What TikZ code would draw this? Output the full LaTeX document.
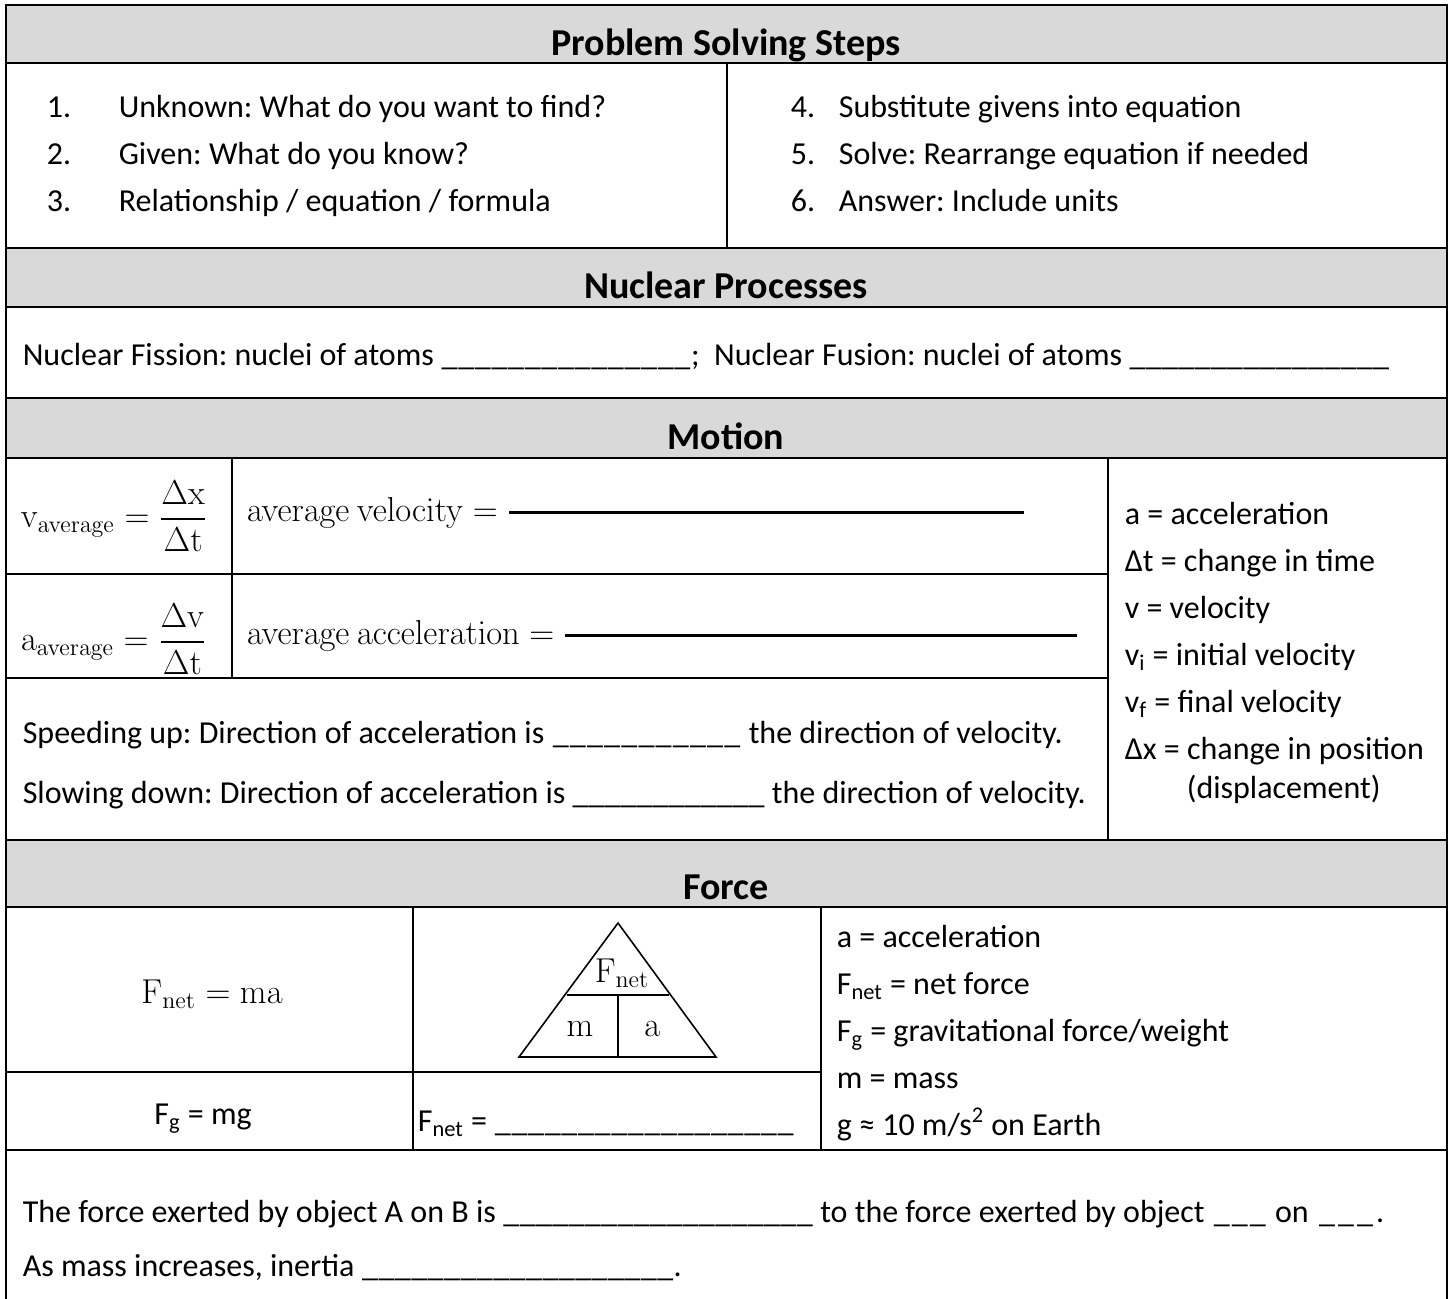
\documentclass[tikz,border=0pt]{standalone}
\usepackage[no-math]{fontspec}
\setmainfont{Carlito}
\usepackage{amsmath}
\usetikzlibrary{positioning}

\newcommand{\gap}[1]{\hbox to #1{\xleaders\hbox{\_}\hfill}}

\begin{document}
\frenchspacing
\begin{tikzpicture}[
  x=0.5pt, y=-0.5pt,
  line width=0.8pt,
  head/.style={fill=black!15, draw},
  title/.style={anchor=base, font=\fontsize{19}{22}\selectfont\bfseries, inner sep=0pt},
  txt/.style={anchor=base west, font=\fontsize{16}{19}\selectfont, inner sep=0pt},
  eq/.style={font=\fontsize{16.5}{19}\selectfont, inner sep=0pt},
  answer/.style={line width=1.2pt}
]
\useasboundingbox (0,0) rectangle (1449,1299);

% header bands
\foreach \t/\b in {5/63, 248/307, 398/458, 840/907}
  \draw[head] (6,\t) rectangle (1447,\b);

\draw (6,5) -- (6,1299);
\draw (1447,5) -- (1447,1299);
\draw (6,1150) -- (1447,1150);
\draw (727,63) -- (727,248);
\draw (232,458) -- (232,678);
\draw (6,574) -- (1108,574);
\draw (6,678) -- (1108,678);
\draw (1108,458) -- (1108,840);
\draw (6,1072) -- (821,1072);
\draw (413,907) -- (413,1150);
\draw (821,907) -- (821,1150);

\node[title] (hsteps)   at (726,56)  {Problem Solving Steps};
\node[title] (hnuclear) at (726,299) {Nuclear Processes};
\node[title] (hmotion)  at (726,449) {Motion};
\node[title] (hforce)   at (726,899) {Force};

% problem solving steps
\foreach \s [count=\n] in {Unknown: What do you want to find?, Given: What do you know?,
                           Relationship / equation / formula} {
  \node[txt] (num\n) at (46,71+47*\n) {\n.};
  \node[txt] (step\n) at (118,71+47*\n) {\s};
}
\foreach \s [count=\n from 4] in {Substitute givens into equation,
                           Solve: Rearrange equation if needed, Answer: Include units} {
  \node[txt] (num\n) at (790,71+47*\n-141) {\n.};
  \node[txt] (step\n) at (838,71+47*\n-141) {\s};
}

% nuclear processes
\node[txt] (nuclear) at (22,365)
  {Nuclear Fission: nuclei of atoms \gap{125pt};\ \ Nuclear Fusion: nuclei of atoms \gap{130pt}};

% motion
\node[eq, anchor=west] (veq) at (20,516)
  {$\mathrm{v}_{\mathrm{average}} = \dfrac{\Delta\mathrm{x}}{\Delta\mathrm{t}}$};
\node[eq, anchor=west] (aeq) at (20,639)
  {$\mathrm{a}_{\mathrm{average}} = \dfrac{\Delta\mathrm{v}}{\Delta\mathrm{t}}$};
\node[eq, anchor=base west] (vword) at (246,521) {$\mathrm{average\ velocity} =$};
\node[eq, anchor=base west] (aword) at (246,644) {$\mathrm{average\ acceleration} =$};
\coordinate (vend) at (1024,510);
\coordinate (aend) at (1077,633);
\draw[answer] (vword.east) ++(5pt,0) coordinate (vstart) -- (vstart -| vend);
\draw[answer] (aword.east) ++(5pt,0) coordinate (astart) -- (astart -| aend);

\node[txt] (speed) at (22,743)
  {Speeding up: Direction of acceleration is \gap{95pt} the direction of velocity.};
\node[txt] (slow) at (22,803)
  {Slowing down: Direction of acceleration is \gap{96pt} the direction of velocity.};

\foreach \s [count=\i] in {a = acceleration, Δt = change in time, v = velocity,
    v\textsubscript{i} = initial velocity, v\textsubscript{f} = final velocity,
    Δx = change in position}
  \node[txt] (mdef\i) at (1124,477+47*\i) {\s};
\node[txt] (mdef7) at (1186,798) {(displacement)};

% force
\node[eq] (fnet) at (212,994) {$\mathrm{F}_{\mathrm{net}} = \mathrm{ma}$};
\draw (618,923) -- (716,1057) -- (519,1057) -- cycle;
\draw (567,995) -- (669,995);
\draw (618,995) -- (618,1057);
\node[eq] (tF) at (622,973) {$\mathrm{F}_{\mathrm{net}}$};
\node[eq] (tm) at (580,1029) {$\mathrm{m}$};
\node[eq] (ta) at (652,1029) {$\mathrm{a}$};

\node[txt, anchor=base] (fg) at (203,1124) {F\textsubscript{g} = mg};
\node[txt] (fblank) at (417,1131) {F\textsubscript{net} = \gap{150pt}};

\foreach \s [count=\i] in {a = acceleration, F\textsubscript{net} = net force,
    F\textsubscript{g} = gravitational force/weight, m = mass,
    g ≈ 10 m/s\textsuperscript{2} on Earth}
  \node[txt] (fdef\i) at (836,900+47*\i) {\s};

% third law and inertia
\node[txt] (third) at (22,1222)
  {The force exerted by object A on B is \gap{155pt} to the force exerted by object \gap{28pt} on \gap{30pt}.};
\node[txt] (inertia) at (22,1276) {As mass increases, inertia \gap{156pt}.};
\end{tikzpicture}
\end{document}
